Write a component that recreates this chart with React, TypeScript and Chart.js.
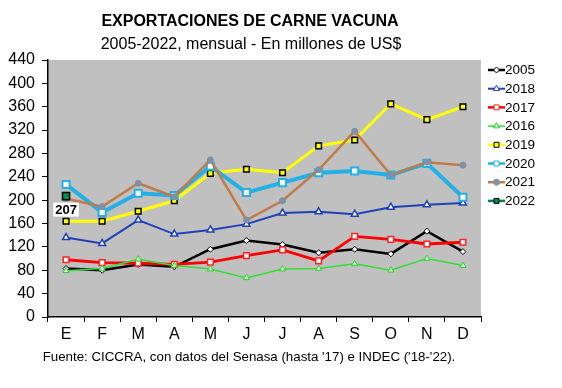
import React, { useEffect, useRef } from "react";
import { Chart, registerables } from "chart.js";
import { drawPoint } from "chart.js/helpers";

Chart.register(...registerables);

const months = ["E", "F", "M", "A", "M", "J", "J", "A", "S", "O", "N", "D"];

const v2005 = [83, 80, 90, 86, 116, 131, 124, 110, 116, 108, 147, 112];
const v2018 = [136, 126, 166, 142, 149, 159, 178, 180, 176, 188, 192, 195];
const v2017 = [98, 93, 92, 90, 94, 105, 115, 96, 138, 133, 125, 128];
const v2016 = [79, 83, 99, 88, 82, 67, 82, 83, 91, 80, 100, 88];
const v2019 = [164, 164, 181, 199, 246, 253, 247, 293, 303, 365, 338, 360];
const v2020 = [227, 179, 212, 208, 258, 213, 230, 247, 250, 243, 263, 205];
const v2021 = [203, 189, 229, 206, 269, 166, 199, 252, 318, 243, 265, 260];
const v2022 = [207, null, null, null, null, null, null, null, null, null, null, null];

const yTicks = [0, 40, 80, 120, 160, 200, 240, 280, 320, 360, 400, 440];

const titleText = "EXPORTACIONES DE CARNE VACUNA";
const subtitleText = "2005-2022, mensual - En millones de US$";
const footerText = "Fuente: CICCRA, con datos del Senasa (hasta '17) e INDEC ('18-'22).";

const FONT = "'Liberation Sans', Arial, sans-serif";

type S = {
  label: string;
  data: (number | null)[];
  color: string;
  width: number;
  style: string;
  radius: number;
  fill: string;
  border: string;
  bw: number;
};

const seriesDefs: S[] = [
  { label: "2005", data: v2005, color: "#000000", width: 2.5, style: "rectRot", radius: 3, fill: "#ffffff", border: "#000000", bw: 1 },
  { label: "2018", data: v2018, color: "#2040b8", width: 2, style: "triangle", radius: 4, fill: "#ffffff", border: "#2040b8", bw: 1.5 },
  { label: "2017", data: v2017, color: "#ff0000", width: 2.8, style: "rect", radius: 4, fill: "#ffffff", border: "#ff2020", bw: 1.5 },
  { label: "2016", data: v2016, color: "#33dd33", width: 1.5, style: "triangle", radius: 3.5, fill: "#ccffcc", border: "#33cc33", bw: 1 },
  { label: "2019", data: v2019, color: "#ffff00", width: 3, style: "rect", radius: 4, fill: "#ffff00", border: "#000000", bw: 1.5 },
  { label: "2020", data: v2020, color: "#22b0e6", width: 4, style: "rect", radius: 5, fill: "#ffffff", border: "#22b0e6", bw: 2 },
  { label: "2021", data: v2021, color: "#c07c48", width: 2.5, style: "circle", radius: 3, fill: "#8090a8", border: "#8090a8", bw: 1 },
  { label: "2022", data: v2022, color: "#00804a", width: 2.5, style: "rect", radius: 5, fill: "#00904a", border: "#000000", bw: 1.5 },
];

const decoPlugin = {
  id: "deco",
  beforeDraw(chart: any) {
    const { ctx, chartArea } = chart;
    ctx.save();
    ctx.fillStyle = "#ffffff";
    ctx.fillRect(0, 0, chart.width, chart.height);
    ctx.fillStyle = "#c0c0c0";
    ctx.fillRect(chartArea.left, chartArea.top, chartArea.right - chartArea.left, chartArea.bottom - chartArea.top);
    ctx.restore();
  },
  afterDraw(chart: any) {
    const { ctx } = chart;
    ctx.save();
    ctx.fillStyle = "#000000";
    ctx.textAlign = "center";
    ctx.textBaseline = "middle";
    ctx.font = `bold 16px ${FONT}`;
    ctx.fillText(titleText, 250, 22);
    ctx.font = `16px ${FONT}`;
    ctx.fillText(subtitleText, 251, 45);
    ctx.font = `13.3px ${FONT}`;
    ctx.fillText(footerText, 249, 357);

    // legend
    ctx.textAlign = "left";
    ctx.font = `13.5px ${FONT}`;
    seriesDefs.forEach((s, i) => {
      const y = 70 + i * 18.7;
      ctx.strokeStyle = s.color;
      ctx.lineWidth = Math.min(s.width, 2.5);
      ctx.beginPath();
      ctx.moveTo(488, y);
      ctx.lineTo(505, y);
      ctx.stroke();
      ctx.fillStyle = s.fill;
      ctx.strokeStyle = s.border;
      ctx.lineWidth = 1;
      drawPoint(ctx, { pointStyle: s.style as any, rotation: 0, radius: Math.min(s.radius, 3.5), borderWidth: 1 }, 496.5, y);
      ctx.fillStyle = "#000000";
      ctx.fillText(s.label, 505, y + 0.5);
    });

    // data label for 2022
    const idx = seriesDefs.findIndex((s) => s.label === "2022");
    const meta = chart.getDatasetMeta(idx);
    const p = meta.data[0];
    if (p) {
      const txt = String(v2022[0]);
      ctx.font = `bold 13px ${FONT}`;
      const w = ctx.measureText(txt).width + 4;
      const cx = p.x;
      const cy = p.y + 13.5;
      ctx.fillStyle = "#ffffff";
      ctx.fillRect(cx - w / 2, cy - 7, w, 14);
      ctx.fillStyle = "#000000";
      ctx.textAlign = "center";
      ctx.fillText(txt, cx, cy + 0.5);
    }
    ctx.restore();
  },
};

export default function App() {
  const ref = useRef<HTMLCanvasElement | null>(null);
  useEffect(() => {
    if (!ref.current) return;
    const chart = new Chart(ref.current, {
      type: "line",
      data: {
        labels: months,
        datasets: seriesDefs.map((s, i) => ({
          label: s.label,
          data: s.data,
          borderColor: s.color,
          backgroundColor: s.fill,
          borderWidth: s.width,
          pointStyle: s.style as any,
          pointRadius: s.radius,
          pointBackgroundColor: s.fill,
          pointBorderColor: s.border,
          pointBorderWidth: s.bw,
          tension: 0,
          fill: false,
          order: seriesDefs.length - 1 - i,
        })),
      },
      options: {
        animation: false,
        responsive: false,
        events: [],
        layout: { padding: { left: 0, top: 60, right: 81, bottom: 41 } },
        plugins: {
          legend: { display: false },
          title: { display: false },
          tooltip: { enabled: false },
        },
        scales: {
          x: {
            offset: true,
            grid: { offset: true, drawOnChartArea: false, drawTicks: true, tickLength: 5, color: "#000000", lineWidth: 1 },
            border: { display: true, color: "#000000", width: 1.5 },
            ticks: { color: "#000000", font: { family: FONT, size: 16 }, padding: 3, maxRotation: 0, autoSkip: false },
            afterFit: (scale: any) => {
              scale.height = 30;
            },
          },
          y: {
            min: 0,
            max: 440,
            afterBuildTicks: (scale: any) => {
              scale.ticks = yTicks.map((v) => ({ value: v }));
            },
            grid: { drawOnChartArea: false, drawTicks: true, tickLength: 6, color: "#000000", lineWidth: 1 },
            border: { display: true, color: "#000000", width: 1.5 },
            ticks: { color: "#000000", font: { family: FONT, size: 16 }, padding: 7 },
            afterFit: (scale: any) => {
              scale.width = 48;
            },
          },
        },
      },
      plugins: [decoPlugin],
    });
    return () => chart.destroy();
  }, []);
  return (
    <div style={{ position: "absolute", left: 0, top: 0, width: 562, height: 388, background: "#fff" }}>
      <canvas ref={ref} width={562} height={388} style={{ width: 562, height: 388 }} />
    </div>
  );
}
